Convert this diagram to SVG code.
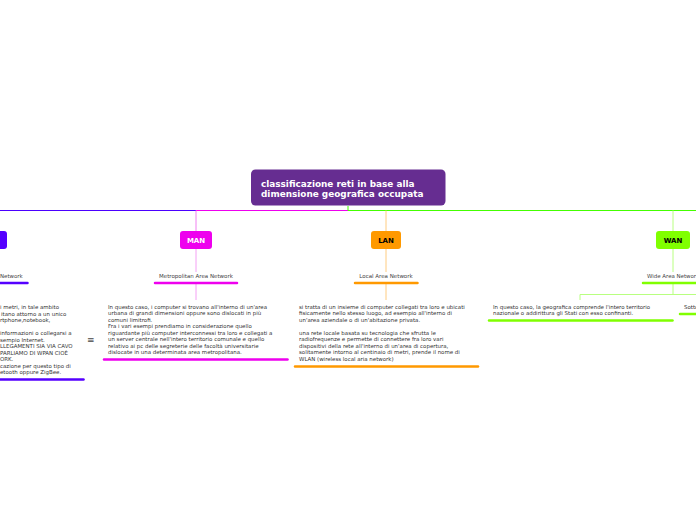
<svg xmlns="http://www.w3.org/2000/svg" width="696" height="520" viewBox="0 0 696 520">
<style>
.t{font-family:"DejaVu Sans",Verdana,sans-serif;font-size:5.45px;fill:#333}
.s{font-family:"DejaVu Sans",Verdana,sans-serif;font-size:5.5px;fill:#444;text-anchor:middle}
.n{font-family:"DejaVu Sans",Verdana,sans-serif;font-size:7px;font-weight:bold;text-anchor:middle}
.u{stroke-width:2.5;stroke-linecap:round;fill:none}
.c{fill:none;stroke-width:1}
</style>
<rect width="696" height="520" fill="#fff"/>
<g id="connectors">
<path class="c" d="M0 210.5H196" stroke="#4b00ff"/>
<path class="c" d="M196 210.5H348" stroke="#ee00ee"/>
<path class="c" d="M348 206V210.5H696" stroke="#44ff00"/>
<path class="c" d="M196 210.5V231" stroke="#f080f0"/>
<path class="c" d="M196 249V272M196 284V300" stroke="#f4a0f4"/>
<path class="c" d="M386 210.5V231M386 249V272M386 284V300" stroke="#ffcc80"/>
<path class="c" d="M673 210.5V231M673 249V272M673 284V294.5" stroke="#b8ff80"/>
<path class="c" d="M580 300V294.5H696" stroke="#b8ff80"/>
</g>
<g id="root">
<rect x="251" y="169.5" width="194.5" height="36" rx="4.5" fill="#662d91"/>
<text x="261" y="186.5" font-family="DejaVu Sans,Verdana,sans-serif" font-size="8.9" font-weight="bold" fill="#fff">classificazione reti in base alla</text>
<text x="261" y="197" font-family="DejaVu Sans,Verdana,sans-serif" font-size="8.9" font-weight="bold" fill="#fff">dimensione geografica occupata</text>
</g>
<g id="pan">
<rect x="-30" y="231" width="37" height="18" rx="3" fill="#5500ff"/>
<text class="t" x="0" y="277.5" style="fill:#444">Network</text>
<path class="u" d="M0 283H27.5" stroke="#5500ff"/>
<text class="t" x="0" y="309">i metri, in tale ambito</text>
<text class="t" x="1" y="315.5">itano attorno a un unico</text>
<text class="t" x="0" y="322">rtphone,notebook,</text>
<text class="t" x="0" y="335">informazioni o collegarsi a</text>
<text class="t" x="0" y="341.5">sempio Internet.</text>
<text class="t" x="0" y="348">LLEGAMENTI SIA VIA CAVO</text>
<text class="t" x="0" y="354.5">PARLIAMO DI WPAN CIOÈ</text>
<text class="t" x="0" y="361">ORK.</text>
<text class="t" x="0" y="367.5">cazione per questo tipo di</text>
<text class="t" x="0" y="374">etooth oppure ZigBee.</text>
<path class="u" d="M0 379.5H83.5" stroke="#5500ff"/>
<text x="87" y="343" font-family="DejaVu Sans,sans-serif" font-size="9" fill="#444">≡</text>
</g>
<g id="man">
<rect x="180" y="231" width="32" height="18" rx="3" fill="#ee00ee"/>
<text class="n" x="196" y="242.5" fill="#fff">MAN</text>
<text class="s" x="196" y="277.5">Metropolitan Area Network</text>
<path class="u" d="M155 283H237" stroke="#ee00ee"/>
<text class="t" x="108" y="308.5">In questo caso, i computer si trovano all'interno di un'area</text>
<text class="t" x="108" y="315">urbana di grandi dimensioni oppure sono dislocati in più</text>
<text class="t" x="108" y="321.5">comuni limitrofi.</text>
<text class="t" x="108" y="328">Fra i vari esempi prendiamo in considerazione quello</text>
<text class="t" x="108" y="334.5">riguardante più computer interconnessi tra loro e collegati a</text>
<text class="t" x="108" y="341">un server centrale nell'intero territorio comunale e quello</text>
<text class="t" x="108" y="347.5">relativo ai pc delle segreterie delle facoltà universitarie</text>
<text class="t" x="108" y="354">dislocate in una determinata area metropolitana.</text>
<path class="u" d="M104 359.5H287.5" stroke="#ee00ee"/>
</g>
<g id="lan">
<rect x="371" y="231" width="30" height="18" rx="3" fill="#ff9900"/>
<text class="n" x="386" y="242.5" fill="#000">LAN</text>
<text class="s" x="386" y="277.5">Local Area Network</text>
<path class="u" d="M355 283H417.5" stroke="#ff9900"/>
<text class="t" x="299" y="308.5">si tratta di un insieme di computer collegati tra loro e ubicati</text>
<text class="t" x="299" y="315">fisicamente nello stesso luogo, ad esempio all'interno di</text>
<text class="t" x="299" y="321.5">un'area aziendale o di un'abitazione privata.</text>
<text class="t" x="299" y="334.5">una rete locale basata su tecnologia che sfrutta le</text>
<text class="t" x="299" y="341">radiofrequenze e permette di connettere fra loro vari</text>
<text class="t" x="299" y="347.5">dispositivi della rete all'interno di un'area di copertura,</text>
<text class="t" x="299" y="354">solitamente intorno al centinaio di metri, prende il nome di</text>
<text class="t" x="299" y="360.5">WLAN (wireless local aria network)</text>
<path class="u" d="M295 366.5H478" stroke="#ff9900"/>
</g>
<g id="wan">
<rect x="656" y="231" width="34" height="18" rx="3" fill="#80ff00"/>
<text class="n" x="673" y="242.5" fill="#000">WAN</text>
<text class="t" x="647" y="277.5" style="fill:#444">Wide Area Network</text>
<path class="u" d="M643 283H696" stroke="#80ff00"/>
<text class="t" x="493" y="308.5">In questo caso, la geografica comprende l'intero territorio</text>
<text class="t" x="493" y="315">nazionale o addirittura gli Stati con esso confinanti.</text>
<path class="u" d="M489 320.5H672.5" stroke="#80ff00"/>
</g>
<g id="wan-sub">
<text class="t" x="684" y="308.5">Sotto</text>
<path class="u" d="M680 314H696" stroke="#80ff00"/>
</g>
</svg>
